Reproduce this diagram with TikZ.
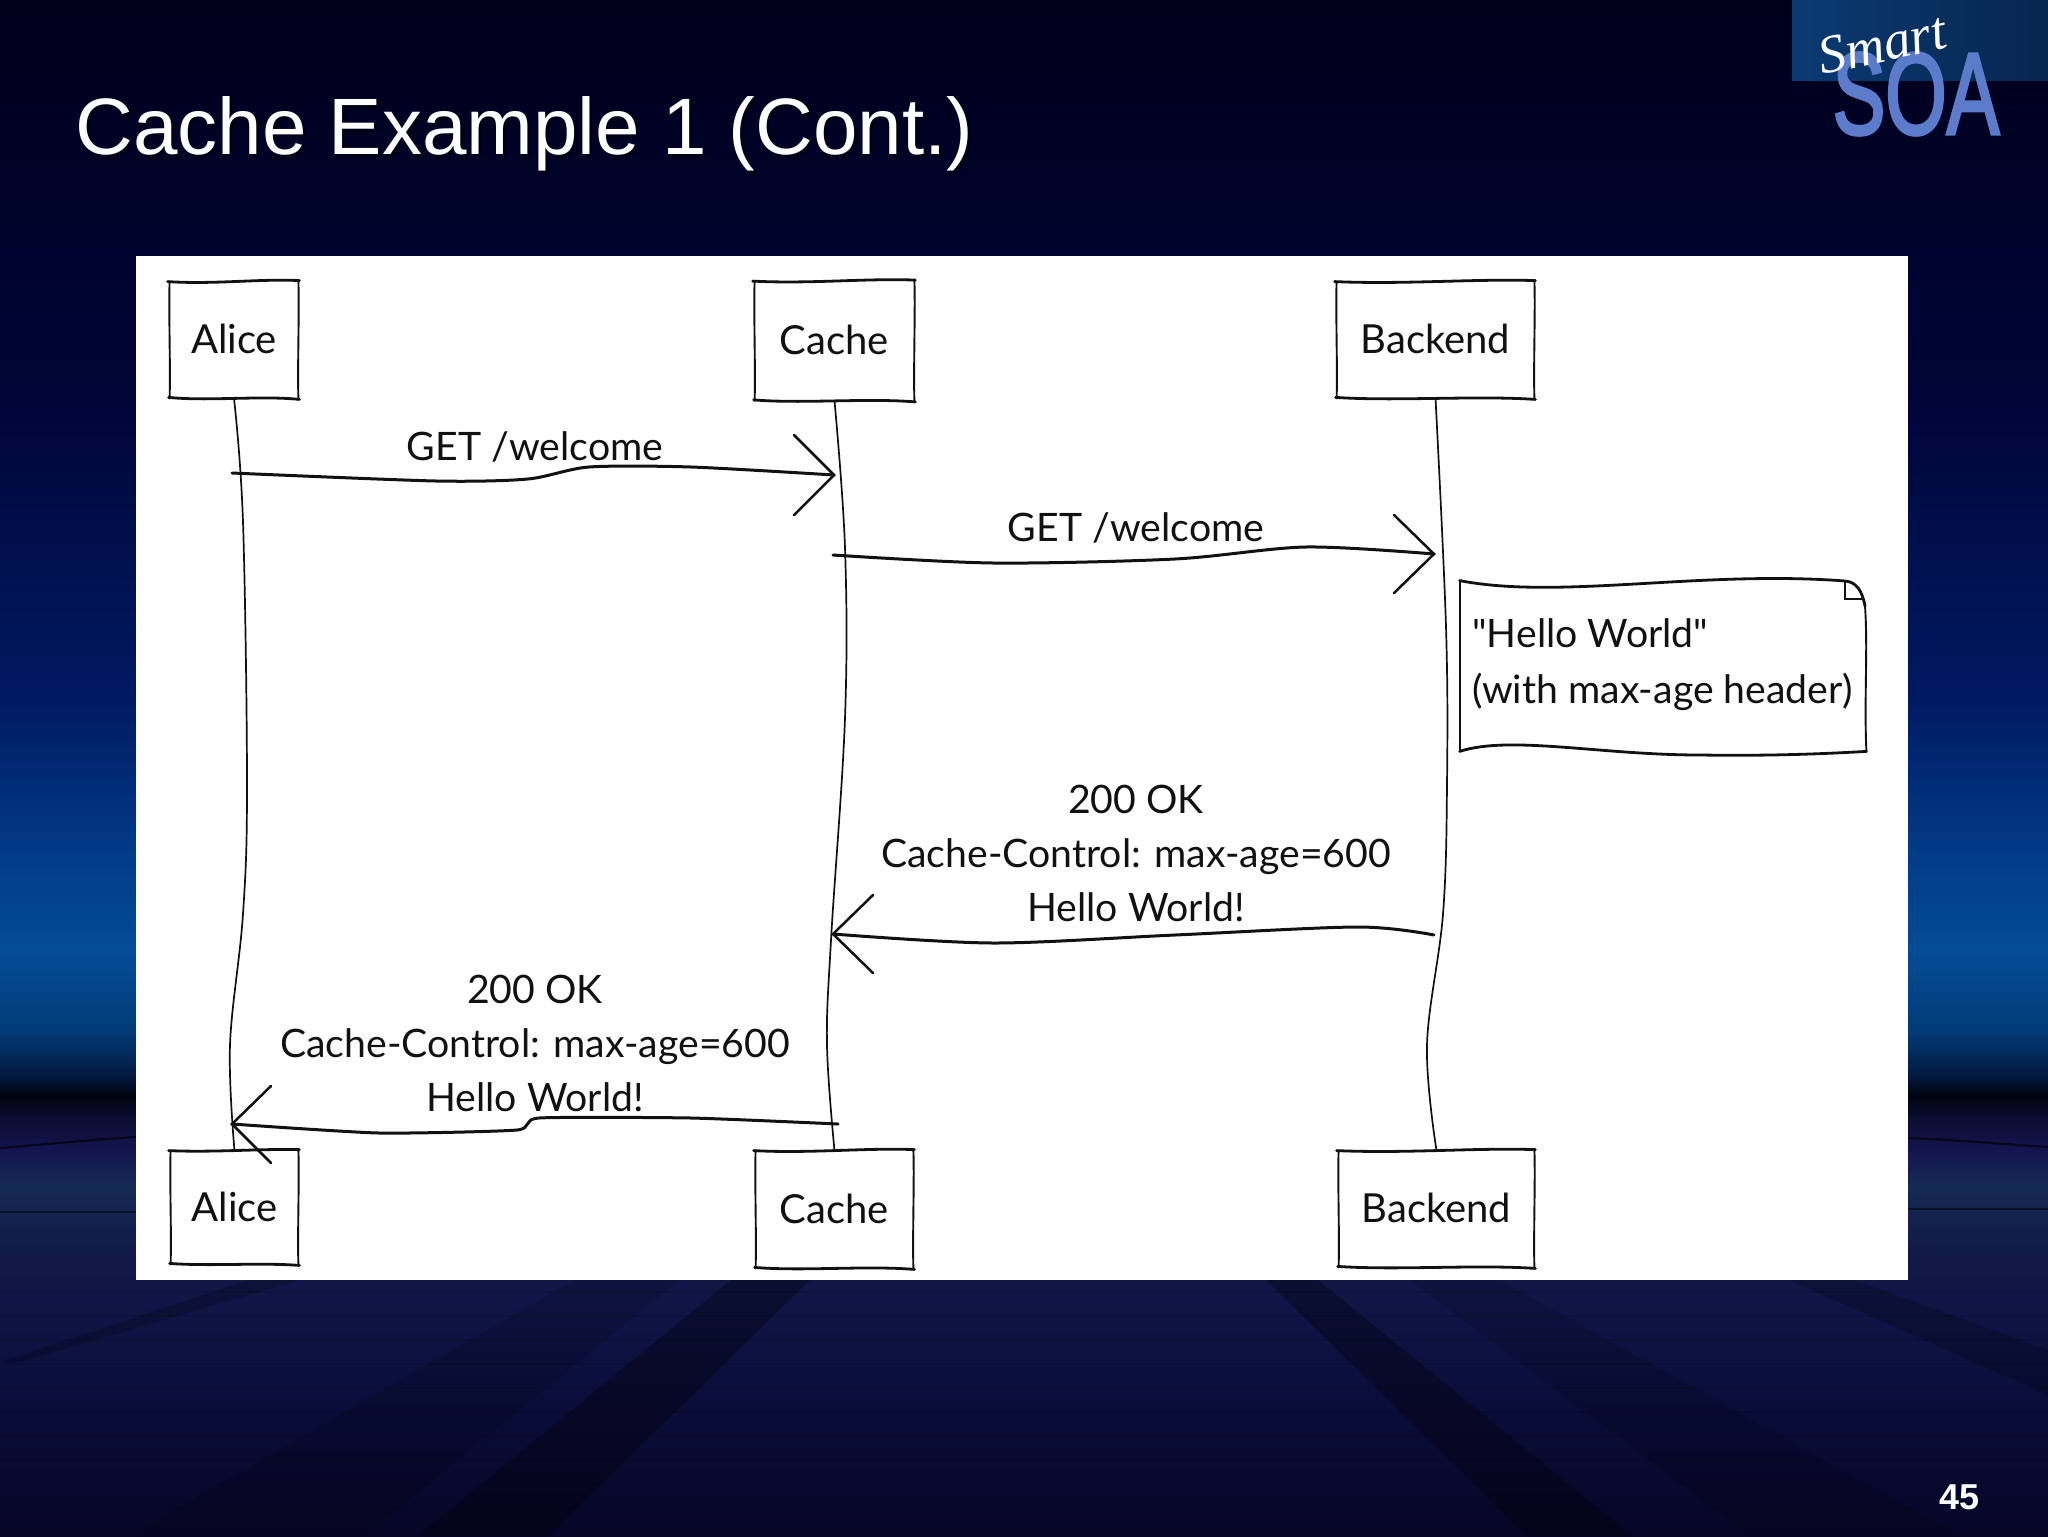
\documentclass[tikz,border=0pt]{standalone}
\usepackage{fontspec}
\usepackage{graphicx}
\usetikzlibrary{calc}
\setmainfont{Liberation Sans}
\newfontfamily\handfont{Lato}
\newfontfamily\smartfont{Liberation Serif}
\newfontfamily\soafont[FakeBold=3]{Liberation Sans}
\definecolor{ink}{HTML}{111111}
\definecolor{soablue}{HTML}{5C7CCB}
\tikzset{
  actorbox/.style={inner sep=0pt,text=ink,font=\handfont\fontsize{20}{27}\selectfont},
  msglabel/.style={inner sep=0pt,text=ink,align=center,font=\handfont\fontsize{19.6}{27}\selectfont},
  edgeh/.style={draw=ink,line width=1.4pt,line cap=round},
  edgev/.style={draw=ink,line width=.95pt,line cap=round},
  lifeline/.style={draw=ink,line width=.85pt,line cap=round},
  msgline/.style={draw=ink,line width=1.5pt,line cap=round},
  msghead/.style={draw=ink,line width=1.25pt,line cap=round,line join=miter},
  floorband/.style={fill=black,opacity=#1}
}
% hand drawn outline around a named node
\newcommand{\sketchbox}[2]{%
  \draw[edgeh] ($(#1.north west)+(-2,0)$) .. controls ($(#1.north west)!.35!(#1.north east)+(0,#2)$) and ($(#1.north west)!.7!(#1.north east)+(0,-#2)$) .. ($(#1.north east)+(1,-1)$);
  \draw[edgeh] ($(#1.south west)+(-1,-1)$) .. controls ($(#1.south west)!.3!(#1.south east)+(0,#2)$) and ($(#1.south west)!.7!(#1.south east)+(0,-#2)$) .. ($(#1.south east)+(1,1)$);
  \draw[edgev] (#1.north west) .. controls ($(#1.north west)+(-1,30)$) and ($(#1.south west)+(1,-30)$) .. (#1.south west);
  \draw[edgev] (#1.north east) .. controls ($(#1.north east)+(1,30)$) and ($(#1.south east)+(-1,-30)$) .. (#1.south east);
}
\newcommand{\bgband}[4]{\fill[top color=#3,bottom color=#4,draw=none] (0,#1) rectangle (2048,#2);}
\newcommand{\actortext}[1]{\raisebox{1pt}{#1}}
\begin{document}
\begin{tikzpicture}[x=.5pt,y=-.5pt]
\useasboundingbox (0,0) rectangle (2048,1536);
% sky and floor gradient
\definecolor{g0}{HTML}{00001A}\definecolor{g1}{HTML}{000538}\definecolor{g2}{HTML}{001A62}
\definecolor{g3}{HTML}{023A86}\definecolor{g4}{HTML}{044C96}\definecolor{g5}{HTML}{033B78}
\definecolor{g6}{HTML}{021A40}\definecolor{g7}{HTML}{01030F}\definecolor{g8}{HTML}{0B0C2E}
\definecolor{g9}{HTML}{14154F}\definecolor{g10}{HTML}{152A55}\definecolor{g11}{HTML}{111A48}
\definecolor{g12}{HTML}{0F1546}\definecolor{g13}{HTML}{0A0D3A}\definecolor{g14}{HTML}{050626}
\bgband{0}{401}{g0}{g1}\bgband{400}{701}{g1}{g2}\bgband{700}{851}{g2}{g3}
\bgband{850}{951}{g3}{g4}\bgband{950}{1031}{g4}{g5}\bgband{1030}{1076}{g5}{g6}
\bgband{1075}{1096}{g6}{g7}\bgband{1095}{1116}{g7}{g8}\bgband{1115}{1151}{g8}{g9}
\bgband{1150}{1186}{g9}{g10}\bgband{1185}{1251}{g10}{g11}\bgband{1250}{1301}{g11}{g12}
\bgband{1300}{1401}{g12}{g13}\bgband{1400}{1536}{g13}{g14}
% floor
\fill[floorband=.32] (731,1280) -- (810,1280) -- (548,1536) -- (418,1536) -- cycle;
\fill[floorband=.32] (1266,1280) -- (1318,1280) -- (1632,1536) -- (1527,1536) -- cycle;
\fill[floorband=.13] (574,1280) -- (679,1280) -- (365,1536) -- (130,1536) -- cycle;
\fill[floorband=.13] (1410,1280) -- (1500,1280) -- (1960,1536) -- (1750,1536) -- cycle;
\fill[floorband=.2] (248,1280) -- (300,1280) -- (20,1362) -- (0,1362) -- cycle;
\fill[floorband=.2] (1789,1280) -- (1854,1280) -- (2048,1350) -- (2048,1395) -- cycle;
\foreach \yy in {1292,1316,...,1530}{\draw[black,opacity=.1,line width=.6pt] (0,\yy) -- (2048,\yy);}
\draw[black,opacity=.6,line width=1.1pt] (0,1148) .. controls (60,1143) and (100,1139) .. (136,1137);
\draw[black,opacity=.6,line width=1.1pt] (1908,1138) .. controls (1960,1140) and (2000,1144) .. (2048,1147);
\draw[black,opacity=.5,line width=.9pt] (0,1212) -- (136,1212);
\draw[black,opacity=.5,line width=.9pt] (1908,1209) -- (2048,1209);
% logo
\definecolor{lg1}{HTML}{0B3A72}\definecolor{lg2}{HTML}{06264F}
\fill[left color=lg1,right color=lg2,draw=none] (1792,0) rectangle (2048,81);
\node[inner sep=0pt,text=soablue] (logosoa) at (1916,94) {\soafont\fontsize{58}{58}\selectfont\scalebox{.68}[1]{SOA}};
\node[inner sep=0pt,text=white,rotate=12] (logosmart) at (1882,44) {\smartfont\itshape\fontsize{27}{27}\selectfont Smart};
% title
\node[anchor=base west,inner sep=0pt,text=black!90!blue] (titleshadow) at (78,158) {\fontsize{40}{40}\selectfont Cache Example 1 (Cont.)};
\node[anchor=base west,inner sep=0pt,text=white] (titletext) at (75,155) {\fontsize{40}{40}\selectfont Cache Example 1 (Cont.)};
\node[inner sep=0pt,text=white] (pagenum) at (1959,1497) {\fontsize{18}{18}\selectfont\bfseries 45};
% panel
\fill[white] (136,256) rectangle (1908,1280);
% actors
\node[actorbox,minimum width=64pt,minimum height=58pt] (alicetop) at (234,340) {\actortext{Alice}};
\node[actorbox,minimum width=79.5pt,minimum height=59.5pt] (cachetop) at (834.5,341) {\actortext{Cache}};
\node[actorbox,minimum width=98.5pt,minimum height=58pt] (backendtop) at (1435.5,340) {\actortext{Backend}};
\node[actorbox,minimum width=63.5pt,minimum height=56.5pt] (alicebot) at (234.5,1207.5) {\actortext{Alice}};
\node[actorbox,minimum width=78.5pt,minimum height=58.5pt] (cachebot) at (834.5,1209.5) {\actortext{Cache}};
\node[actorbox,minimum width=97.5pt,minimum height=58pt] (backendbot) at (1436.5,1209) {\actortext{Backend}};
\sketchbox{alicetop}{3}\sketchbox{cachetop}{3}\sketchbox{backendtop}{3}
\sketchbox{alicebot}{2}\sketchbox{cachebot}{3}\sketchbox{backendbot}{3}
% lifelines
\draw[lifeline] plot[smooth,tension=.6] coordinates {(alicetop.south) (243,522) (247,784) (243,914) (230,1045) (alicebot.north)};
\draw[lifeline] plot[smooth,tension=.6] coordinates {(cachetop.south) (845,548) (845,718) (831,940) (827,1045) (cachebot.north)};
\draw[lifeline] plot[smooth,tension=.6] coordinates {(backendtop.south) (1446,627) (1447,784) (1443,914) (1427,1045) (backendbot.north)};
% message ends
\coordinate (m1s) at (232,473); \coordinate (m1e) at (834,475);
\coordinate (m2s) at (833,555); \coordinate (m2e) at (1434,554);
\coordinate (m3s) at (1434,935); \coordinate (m3e) at (833,934);
\coordinate (m4s) at (838,1124); \coordinate (m4e) at (232,1124);
% messages
\draw[msgline] plot[smooth,tension=.45] coordinates {(m1s) (436,481) (528,479) (589,467) (691,467) (m1e)};
\draw[msghead] ($(m1e)+(-40,-40)$) -- (m1e) -- ($(m1e)+(-40,40)$);
\draw[msgline] plot[smooth,tension=.5] coordinates {(m2s) (993,563) (1175,559) (1306,547) (m2e)};
\draw[msghead] ($(m2e)+(-40,-39)$) -- (m2e) -- ($(m2e)+(-40,39)$);
\draw[msgline] plot[smooth,tension=.5] coordinates {(m3s) (1358,927) (1175,935) (993,943) (m3e)};
\draw[msghead] ($(m3e)+(40,-39)$) -- (m3e) -- ($(m3e)+(40,39)$);
\draw[msgline] plot[smooth,tension=.35] coordinates {(m4s) (691,1118) (539,1118) (517,1130) (379,1133) (m4e)};
\draw[msghead] ($(m4e)+(39,-38)$) -- (m4e) -- ($(m4e)+(39,39)$);
% labels
\node[msglabel] (l1) at (535,447) {GET /welcome};
\node[msglabel] (l2) at (1136,528) {GET /welcome};
\node[msglabel] (l3) at (1136,853) {200 OK\\Cache-Control: max-age=600\\Hello World!};
\node[msglabel] (l4) at (535,1043) {200 OK\\Cache-Control: max-age=600\\Hello World!};
% note
\node[inner sep=0pt,minimum width=203pt,minimum height=85pt] (note) at (1663,666) {};
\draw[edgeh] (note.north west) .. controls (1560,600) and (1700,570) .. (1845,581) .. controls (1856,582) and (1862,590) .. (1865,606);
\draw[edgev] (note.north west) -- (note.south west);
\draw[edgev] (1865,606) .. controls (1868,650) and (1864,700) .. (note.south east);
\draw[edgeh] (note.south west) .. controls (1510,735) and (1600,755) .. (1700,755) .. controls (1770,756) and (1820,754) .. (note.south east);
\draw[line width=.7pt,draw=ink] (1845,580) -- (1845,599) -- (1864,599);
\node[msglabel,align=left,anchor=west,font=\handfont\fontsize{19.6}{28}\selectfont] (notetext) at (1472,665) {"Hello World"\\(with max-age header)};
\end{tikzpicture}
\end{document}
